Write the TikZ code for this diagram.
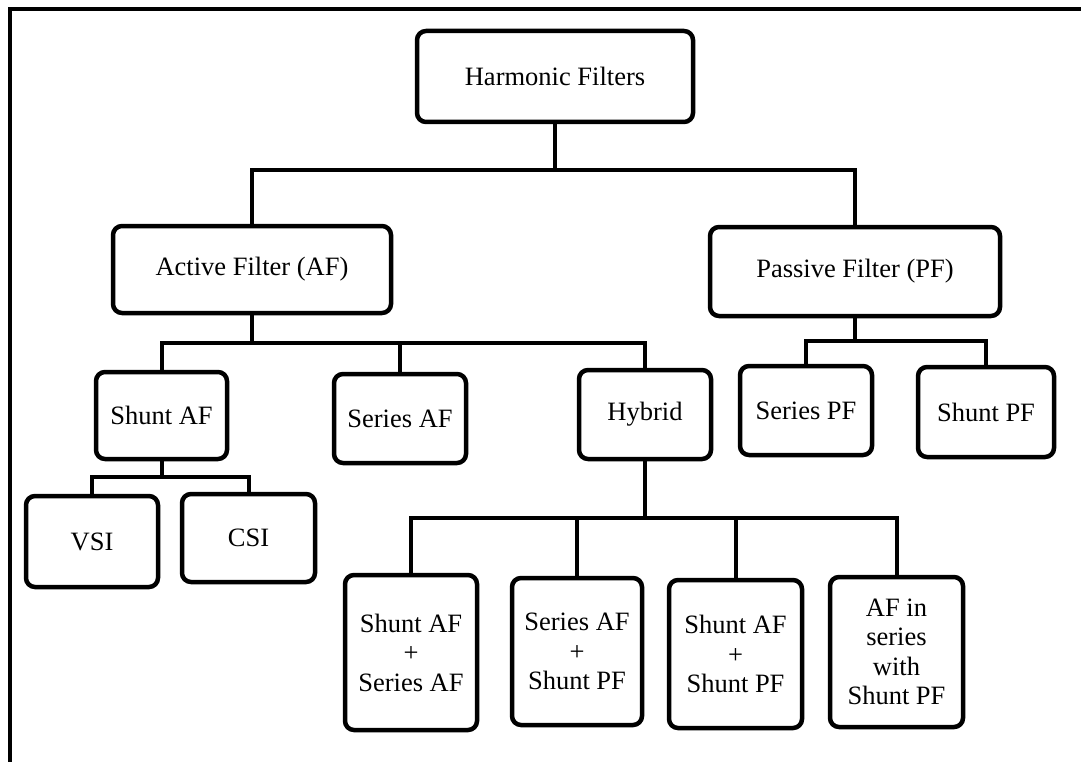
\documentclass[tikz,border=0pt]{standalone}
\usepackage{fontspec}
\setmainfont{Liberation Serif}
\newcommand{\boxfont}{\fontsize{26.5}{29.5}\selectfont}
\begin{document}
\begin{tikzpicture}[x=1pt,y=-1pt,
  fbox/.style={draw, line width=4.5pt, rounded corners=9pt, inner sep=0pt,
               align=center, font=\boxfont},
  link/.style={line width=4pt}]
\useasboundingbox (0,0) rectangle (1081,762);

% open frame: top and left edges only
\draw[line width=3.5pt] (10,762) -- (10,9) -- (1081,9);

% level 0
\node[fbox, minimum width=276pt, minimum height=91pt] (hf) at (555,76.5) {Harmonic Filters};

% level 1
\node[fbox, minimum width=278pt, minimum height=87pt] (af) at (252,269.5) {Active Filter (AF)};
\node[fbox, minimum width=290pt, minimum height=89pt] (pf) at (855,271.5) {Passive Filter (PF)};

% level 2
\node[fbox, minimum width=131pt, minimum height=87pt] (shaf) at (161.5,415.5) {Shunt AF};
\node[fbox, minimum width=132pt, minimum height=89pt] (seaf) at (400,418.5) {Series AF};
\node[fbox, minimum width=132pt, minimum height=89pt] (hyb) at (645,414.5) {Hybrid};
\node[fbox, minimum width=132pt, minimum height=89pt] (sepf) at (806,410.5) {Series PF};
\node[fbox, minimum width=136pt, minimum height=90pt] (shpf) at (986,412) {Shunt PF};

% inverter types
\node[fbox, minimum width=132pt, minimum height=91pt] (vsi) at (92,541.5) {VSI};
\node[fbox, minimum width=133pt, minimum height=88pt] (csi) at (248.5,538) {CSI};

% hybrid combinations
\node[fbox, minimum width=132pt, minimum height=155pt] (hb1) at (411,652.5) {Shunt AF\\+\\Series AF};
\node[fbox, minimum width=130pt, minimum height=147pt] (hb2) at (577,651.5) {Series AF\\+\\Shunt PF};
\node[fbox, minimum width=133pt, minimum height=148pt] (hb3) at (735.5,654) {Shunt AF\\+\\Shunt PF};
\node[fbox, minimum width=133pt, minimum height=150pt] (hb4) at (896.5,652) {AF in\\series\\with\\Shunt PF};

% bus levels
\coordinate (bus0) at (0,170);
\coordinate (busaf) at (0,343);
\coordinate (buspf) at (0,341);
\coordinate (bussh) at (0,477);
\coordinate (bushy) at (0,518);

% connectors
\draw[link] (hf.south) -- (hf.south |- bus0);
\draw[link] (af.north) |- (pf.north |- bus0) -- (pf.north);

\draw[link] (af.south) -- (af.south |- busaf);
\draw[link] (shaf.north) |- (hyb.north |- busaf) -- (hyb.north);
\draw[link] (seaf.north) -- (seaf.north |- busaf);

\draw[link] (pf.south) -- (pf.south |- buspf);
\draw[link] (sepf.north) |- (shpf.north |- buspf) -- (shpf.north);

\draw[link] (shaf.south) -- (shaf.south |- bussh);
\draw[link] (vsi.north) |- (csi.north |- bussh) -- (csi.north);

\draw[link] (hyb.south) -- (hyb.south |- bushy);
\draw[link] (hb1.north) |- (hb4.north |- bushy) -- (hb4.north);
\draw[link] (hb2.north) -- (hb2.north |- bushy);
\draw[link] (hb3.north) -- (hb3.north |- bushy);
\end{tikzpicture}
\end{document}
